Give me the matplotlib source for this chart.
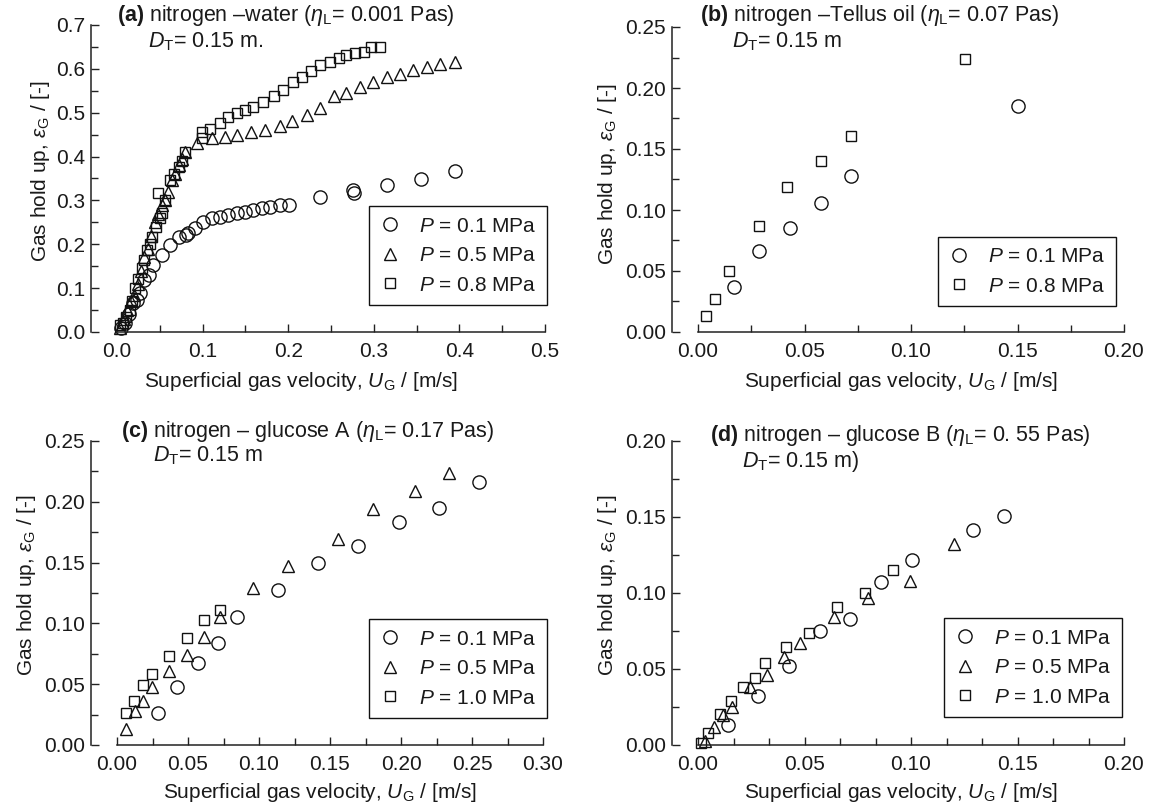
import matplotlib
matplotlib.use('Agg')
import matplotlib.pyplot as plt
from matplotlib.ticker import MultipleLocator, FormatStrFormatter

plt.rcParams['font.family'] = ['Liberation Sans', 'DejaVu Sans']
plt.rcParams['mathtext.fontset'] = 'custom'
plt.rcParams['mathtext.rm'] = 'Liberation Sans'
plt.rcParams['mathtext.it'] = 'Liberation Sans:italic'
plt.rcParams['mathtext.bf'] = 'Liberation Sans:bold'
plt.rcParams['font.size'] = 15
TXT = '#1a1a1a'
FS = 15

# (a) nitrogen - water
a_x01 = [0.005, 0.009, 0.014, 0.019, 0.023, 0.027, 0.031, 0.037, 0.042, 0.052, 0.062, 0.072, 0.081, 0.083,
         0.091, 0.101, 0.111, 0.120, 0.130, 0.140, 0.150, 0.159, 0.169, 0.179, 0.190, 0.201, 0.237, 0.276,
         0.277, 0.316, 0.355, 0.395]
a_y01 = [0.01, 0.02, 0.04, 0.065, 0.073, 0.09, 0.118, 0.13, 0.153, 0.176, 0.198, 0.216, 0.221, 0.225,
         0.236, 0.251, 0.259, 0.263, 0.267, 0.271, 0.274, 0.278, 0.282, 0.286, 0.290, 0.290, 0.308, 0.324,
         0.318, 0.335, 0.348, 0.366]
a_x05 = [0.004, 0.008, 0.012, 0.016, 0.020, 0.024, 0.028, 0.032, 0.036, 0.040, 0.044, 0.048, 0.052, 0.056,
         0.060, 0.064, 0.068, 0.072, 0.076, 0.079, 0.093, 0.111, 0.126, 0.140, 0.157, 0.173, 0.190, 0.204,
         0.222, 0.237, 0.253, 0.268, 0.284, 0.299, 0.315, 0.331, 0.346, 0.362, 0.377, 0.395]
a_y05 = [0.009, 0.03, 0.05, 0.07, 0.085, 0.11, 0.14, 0.17, 0.19, 0.22, 0.25, 0.27, 0.29, 0.30,
         0.32, 0.347, 0.36, 0.38, 0.395, 0.41, 0.430, 0.442, 0.445, 0.449, 0.457, 0.461, 0.470, 0.480,
         0.495, 0.510, 0.537, 0.544, 0.558, 0.571, 0.581, 0.588, 0.597, 0.604, 0.611, 0.616]
a_x08 = [0.004, 0.007, 0.011, 0.015, 0.018, 0.021, 0.025, 0.029, 0.032, 0.035, 0.038, 0.041, 0.045, 0.048,
         0.050, 0.052, 0.056, 0.062, 0.067, 0.072, 0.076, 0.080, 0.099, 0.099, 0.109, 0.120, 0.130, 0.140,
         0.150, 0.159, 0.171, 0.183, 0.194, 0.206, 0.216, 0.227, 0.237, 0.249, 0.259, 0.268, 0.278, 0.288,
         0.297, 0.307]
a_y08 = [0.015, 0.02, 0.035, 0.05, 0.07, 0.10, 0.12, 0.145, 0.165, 0.187, 0.20, 0.217, 0.24, 0.316,
         0.259, 0.271, 0.30, 0.347, 0.36, 0.377, 0.39, 0.41, 0.442, 0.457, 0.464, 0.476, 0.491, 0.499,
         0.506, 0.514, 0.525, 0.537, 0.552, 0.571, 0.582, 0.596, 0.609, 0.616, 0.624, 0.632, 0.637, 0.639,
         0.650, 0.650]

# (b) nitrogen - Tellus oil
b_x01 = [0.0167, 0.0285, 0.043, 0.0576, 0.0718, 0.150]
b_y01 = [0.0368, 0.066, 0.085, 0.106, 0.128, 0.185]
b_x08 = [0.0038, 0.0078, 0.0144, 0.0285, 0.0416, 0.0576, 0.0718, 0.1254]
b_y08 = [0.0128, 0.027, 0.0496, 0.0872, 0.1186, 0.140, 0.1606, 0.2238]

# (c) nitrogen - glucose A
c_x01 = [0.0286, 0.0422, 0.0567, 0.0708, 0.0848, 0.1132, 0.1413, 0.170, 0.1985, 0.2266, 0.2548]
c_y01 = [0.026, 0.0474, 0.0672, 0.0836, 0.105, 0.1275, 0.150, 0.164, 0.183, 0.1946, 0.2163]
c_x05 = [0.0063, 0.0124, 0.0183, 0.0246, 0.0368, 0.0492, 0.0614, 0.0722, 0.0961, 0.1202, 0.1559, 0.180,
         0.210, 0.2339]
c_y05 = [0.0129, 0.0282, 0.0362, 0.048, 0.0609, 0.074, 0.0891, 0.1055, 0.1294, 0.1472, 0.1691, 0.1941,
         0.2089, 0.2234]
c_x10 = [0.0063, 0.0122, 0.0183, 0.0246, 0.0368, 0.0492, 0.0614, 0.0722]
c_y10 = [0.0266, 0.0362, 0.0493, 0.0584, 0.0732, 0.0883, 0.1028, 0.111]

# (d) nitrogen - glucose B
d_x01 = [0.0141, 0.0282, 0.0426, 0.0571, 0.0715, 0.0858, 0.1005, 0.1291, 0.1435]
d_y01 = [0.0131, 0.0322, 0.0521, 0.0749, 0.0826, 0.1073, 0.122, 0.1413, 0.1507]
d_x05 = [0.0031, 0.0075, 0.0117, 0.016, 0.0243, 0.0324, 0.0402, 0.0477, 0.0637, 0.0798, 0.0997, 0.120]
d_y05 = [0.0026, 0.012, 0.0197, 0.0252, 0.0383, 0.046, 0.058, 0.0668, 0.0839, 0.097, 0.108, 0.1321]
d_x10 = [0.0016, 0.0047, 0.0102, 0.0156, 0.0211, 0.0266, 0.0313, 0.0415, 0.0521, 0.0653, 0.0786, 0.0915]
d_y10 = [0.0015, 0.0081, 0.0204, 0.0289, 0.0379, 0.0442, 0.0537, 0.0646, 0.0734, 0.0909, 0.1001, 0.115]

W, H = 1153, 809
fig = plt.figure(figsize=(W / 100, H / 100), dpi=100)


def px_axes(x0, x1, ytop, ybot):
    return fig.add_axes([x0 / W, 1 - ybot / H, (x1 - x0) / W, (ybot - ytop) / H])


def style(ax, xmax, xmaj, xmin_, xfmt, ymax, ymaj, ymin_, yfmt, ylab_x, ylab_y, xlab_x, xlab_y):
    ax.set_xlim(0, xmax)
    ax.set_ylim(0, ymax)
    ax.spines['top'].set_visible(False)
    ax.spines['right'].set_visible(False)
    ax.spines['left'].set_position(('outward', 19))
    for s in ('left', 'bottom'):
        ax.spines[s].set_linewidth(1.1)
        ax.spines[s].set_color('#222222')
    ax.xaxis.set_major_locator(MultipleLocator(xmaj))
    ax.xaxis.set_minor_locator(MultipleLocator(xmin_))
    ax.yaxis.set_major_locator(MultipleLocator(ymaj))
    ax.yaxis.set_minor_locator(MultipleLocator(ymin_))
    ax.xaxis.set_major_formatter(FormatStrFormatter(xfmt))
    ax.yaxis.set_major_formatter(FormatStrFormatter(yfmt))
    ax.tick_params(which='both', direction='in', colors='#222222', labelcolor=TXT, labelsize=FS)
    ax.tick_params(which='major', length=6, width=1)
    ax.tick_params(which='minor', length=5, width=1)
    ax.tick_params(axis='x', pad=7)
    ax.tick_params(axis='y', pad=4)
    ax.set_xlabel(r'Superficial gas velocity, $U_{\rm G}$ / [m/s]', fontsize=FS, color=TXT)
    ax.set_ylabel(r'Gas hold up, $\epsilon_{\rm G}$ / [-]', fontsize=FS, color=TXT)
    ax.xaxis.set_label_coords(xlab_x, xlab_y)
    ax.yaxis.set_label_coords(ylab_x, ylab_y)


def pts(ax, x, y, marker, ms, label):
    ax.plot(x, y, linestyle='none', marker=marker, ms=ms, mfc='none', mec='#111111', mew=1.0,
            clip_on=False, label=label)


def leg(ax, anchor):
    lg = ax.legend(loc='lower right', bbox_to_anchor=anchor, borderaxespad=0, frameon=True,
                   fancybox=False, edgecolor='#111111', framealpha=1, fontsize=FS,
                   handlelength=1.0, handletextpad=0.9, labelspacing=0.5, borderpad=0.5)
    lg.get_frame().set_linewidth(1.0)
    for t in lg.get_texts():
        t.set_color(TXT)


def header(x1, y1, x2, y2, tag, text1, text2):
    fig.text(x1 / W, 1 - y1 / H, r'$\mathbf{' + tag + '}$ ' + text1, fontsize=15.5, color=TXT,
             ha='left', va='center')
    fig.text(x2 / W, 1 - y2 / H, text2, fontsize=15.5, color=TXT, ha='left', va='center')


# (a)
ax = px_axes(117, 545, 25, 332)
pts(ax, a_x01, a_y01, 'o', 9.5, r'$P$ = 0.1 MPa')
pts(ax, a_x05, a_y05, '^', 9, r'$P$ = 0.5 MPa')
pts(ax, a_x08, a_y08, 's', 7.5, r'$P$ = 0.8 MPa')
style(ax, 0.5, 0.1, 0.05, '%.1f', 0.7, 0.1, 0.05, '%.1f', -0.152, 0.524, 0.43, -0.125)
leg(ax, (1.005, 0.088))
header(117, 15, 148, 42, '(a)', r'nitrogen –water ($\eta_{\rm L}$= 0.001 Pas)', r'$D_{\rm T}$= 0.15 m.')

# (b)
ax = px_axes(698, 1124, 27, 332)
pts(ax, b_x01, b_y01, 'o', 9.5, r'$P$ = 0.1 MPa')
pts(ax, b_x08, b_y08, 's', 7.5, r'$P$ = 0.8 MPa')
style(ax, 0.2, 0.05, 0.025, '%.2f', 0.25, 0.05, 0.025, '%.2f', -0.186, 0.518, 0.477, -0.125)
leg(ax, (0.981, 0.085))
header(700, 15, 732, 42, '(b)', r'nitrogen –Tellus oil ($\eta_{\rm L}$= 0.07 Pas)', r'$D_{\rm T}$= 0.15 m')

# (c)
ax = px_axes(117, 543, 441, 745)
pts(ax, c_x01, c_y01, 'o', 9.5, r'$P$ = 0.1 MPa')
pts(ax, c_x05, c_y05, '^', 9, r'$P$ = 0.5 MPa')
pts(ax, c_x10, c_y10, 's', 7.5, r'$P$ = 1.0 MPa')
style(ax, 0.3, 0.05, 0.025, '%.2f', 0.25, 0.05, 0.025, '%.2f', -0.185, 0.526, 0.477, -0.118)
leg(ax, (1.009, 0.089))
header(121, 431, 153, 456, '(c)', r'nitrogen – glucose A ($\eta_{\rm L}$= 0.17 Pas)', r'$D_{\rm T}$= 0.15 m')

# (d)
ax = px_axes(698, 1124, 441, 745)
pts(ax, d_x01, d_y01, 'o', 9.5, r'$P$ = 0.1 MPa')
pts(ax, d_x05, d_y05, '^', 9, r'$P$ = 0.5 MPa')
pts(ax, d_x10, d_y10, 's', 7.5, r'$P$ = 1.0 MPa')
style(ax, 0.2, 0.05, 0.05 / 3, '%.2f', 0.2, 0.05, 0.025, '%.2f', -0.186, 0.526, 0.477, -0.118)
leg(ax, (0.995, 0.092))
header(710, 435, 742, 461, '(d)', r'nitrogen – glucose B ($\eta_{\rm L}$= 0. 55 Pas)', r'$D_{\rm T}$= 0.15 m)')

fig.savefig('out.png', dpi=100)
